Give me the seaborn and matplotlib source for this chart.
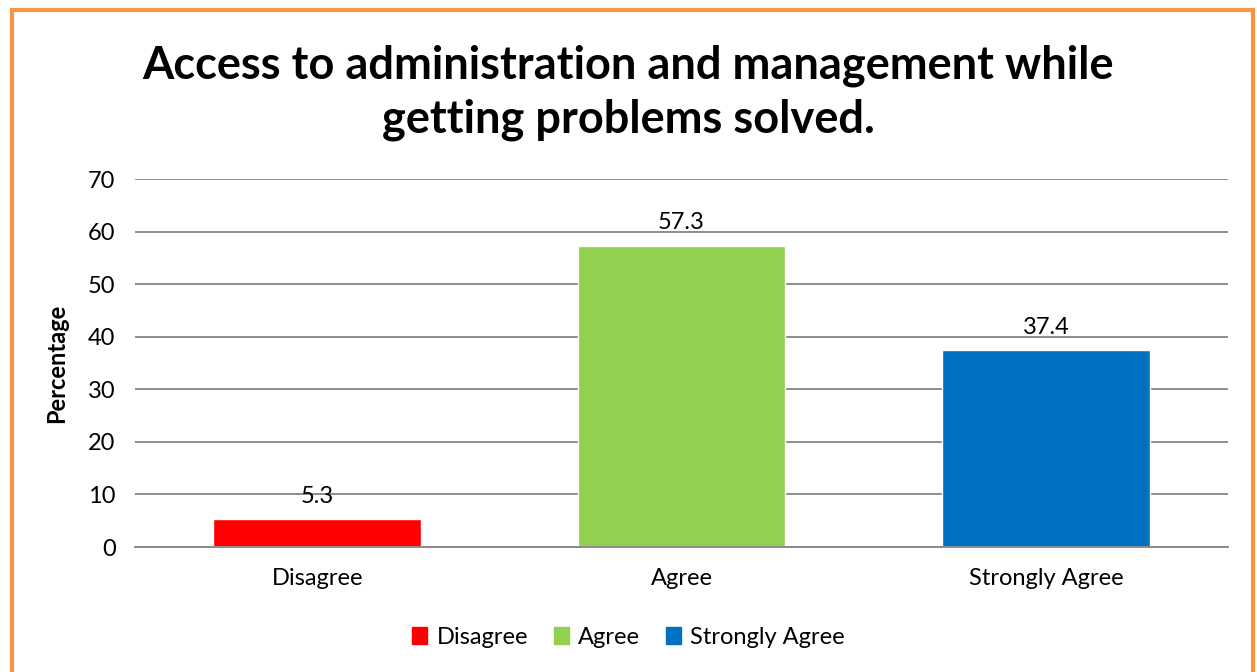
import matplotlib
matplotlib.use("Agg")
import matplotlib.pyplot as plt
import pandas as pd
import seaborn as sns
from matplotlib.patches import Rectangle

categories = ["Disagree", "Agree", "Strongly Agree"]
percentages = [5.3, 57.3, 37.4]
colors = ["#FF0000", "#92D050", "#0070C0"]
y_ticks = [0, 10, 20, 30, 40, 50, 60, 70]

sns.set_style("white")
plt.rcParams["font.family"] = ["Lato", "DejaVu Sans"]
plt.rcParams["text.color"] = "black"
plt.rcParams["xtick.color"] = "black"
plt.rcParams["ytick.color"] = "black"
plt.rcParams["axes.labelcolor"] = "black"

df = pd.DataFrame({"Response": categories, "Percentage": percentages})

fig = plt.figure(figsize=(12.57, 6.72), dpi=100)
ax = fig.add_axes([0.1074, 0.186, 0.8696, 0.5476])

sns.barplot(data=df, x="Response", y="Percentage", hue="Response",
            palette=colors, order=categories, hue_order=categories,
            dodge=False, width=0.57, saturation=1, legend=False, ax=ax)

for cont in ax.containers:
    ax.bar_label(cont, fmt="%.1f", padding=9, fontsize=17)

ax.set_ylim(0, 70)
ax.set_xlim(-0.5, 2.5)
ax.set_yticks(y_ticks)
ax.yaxis.grid(True, color="#8c8c8c", linewidth=1.4)
ax.set_axisbelow(True)
for side in ["top", "right", "left"]:
    ax.spines[side].set_visible(False)
ax.spines["bottom"].set_color("#8c8c8c")
ax.spines["bottom"].set_linewidth(1.4)
ax.tick_params(axis="both", length=0, labelsize=17, pad=14)
ax.tick_params(axis="x", pad=15)
ax.set_xlabel("")
ax.set_ylabel("Percentage", fontsize=17, fontweight="bold", labelpad=14)

fig.text(0.5, 0.862, "Access to administration and management while\ngetting problems solved.",
         ha="center", va="center", fontsize=32.5, fontweight="bold", linespacing=1.35)

handles = [Rectangle((0, 0), 1, 1, color=c) for c in colors]
fig.legend(handles, categories, loc="center", bbox_to_anchor=(0.5, 0.052),
           ncol=3, frameon=False, fontsize=17, handlelength=0.62, handleheight=0.75,
           columnspacing=1.1, handletextpad=0.4)

# orange frame around chart
fig.add_artist(Rectangle((0.0095, -0.05), 0.9875, 1.035, transform=fig.transFigure,
                         fill=False, edgecolor="#F79646", linewidth=3))

fig.savefig("out.png", dpi=100)
